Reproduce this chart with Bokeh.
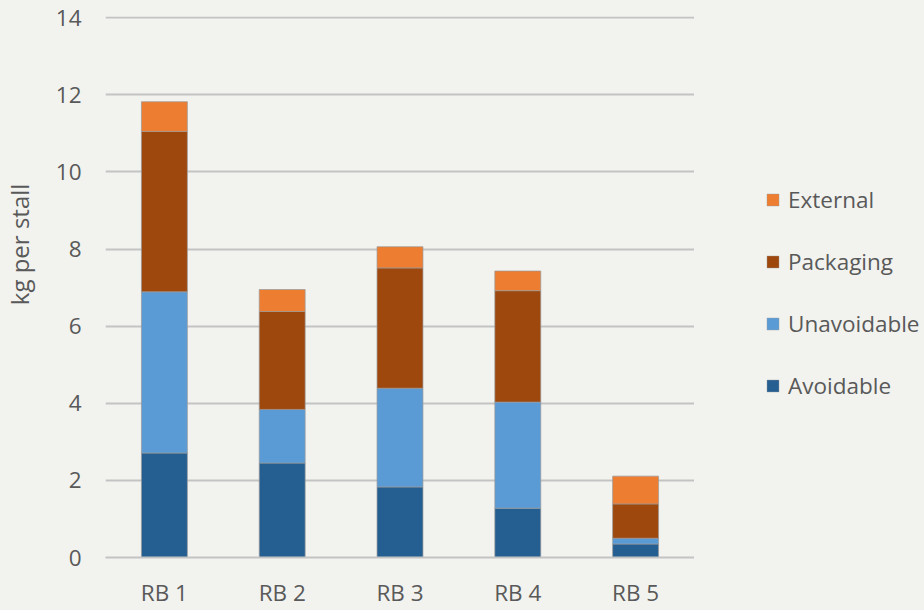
import math

from bokeh.embed import file_html
from bokeh.layouts import row
from bokeh.models import ColumnDataSource, FactorRange, Label, Legend, LegendItem, Range1d
from bokeh.plotting import figure
from bokeh.resources import INLINE

# Waste per stall (kg), split by waste stream
stalls = ["RB 1", "RB 2", "RB 3", "RB 4", "RB 5"]
avoidable = [2.71, 2.45, 1.83, 1.28, 0.35]
unavoidable = [4.18, 1.39, 2.56, 2.75, 0.15]
packaging = [4.16, 2.54, 3.12, 2.89, 0.89]
external = [0.77, 0.57, 0.55, 0.51, 0.72]

series_names = ["Avoidable", "Unavoidable", "Packaging", "External"]
series_colors = ["#255E91", "#5B9BD5", "#9E480E", "#ED7D31"]
y_ticks = [0, 2, 4, 6, 8, 10, 12, 14]
y_title = "kg per stall"

FONT = "Open Sans"
FONT_SIZE = "22.5px"
TEXT_COLOR = "#595959"
BG = "#f2f3ef"
GRID = "#c3c3c3"
OUTLINE = "#9a9a9a"
H = 610
TITLE_W = 52
LEGEND_W = 230
MAIN_W = 924 - TITLE_W - LEGEND_W


def blank_strip(width):
    f = figure(
        width=width, height=H, x_range=(0, width), y_range=(0, H),
        x_axis_location=None, y_axis_location=None,
        output_backend="svg", toolbar_location=None, min_border=0,
    )
    f.background_fill_color = BG
    f.border_fill_color = BG
    f.outline_line_color = None
    f.grid.visible = False
    return f


source = ColumnDataSource(dict(
    stall=stalls,
    Avoidable=avoidable,
    Unavoidable=unavoidable,
    Packaging=packaging,
    External=external,
))

# left strip: rotated y-axis title
t = blank_strip(TITLE_W)
t.add_layout(Label(
    x=19, y=H - 257, text=y_title, angle=math.pi / 2,
    text_align="center", text_baseline="middle",
    text_font=FONT, text_font_size="24px", text_color=TEXT_COLOR,
))

# main stacked bar chart; a hair of headroom keeps the top gridline visible
p = figure(
    width=MAIN_W, height=H,
    x_range=FactorRange(factors=stalls, range_padding=0),
    y_range=Range1d(0, 14.03),
    output_backend="svg",
    toolbar_location=None,
    min_border_left=104 - TITLE_W, min_border_right=0,
    min_border_top=16, min_border_bottom=53,
)
p.background_fill_color = BG
p.border_fill_color = BG
p.outline_line_color = None

p.vbar_stack(
    series_names, x="stall", width=0.39, source=source,
    fill_color=series_colors, line_color=OUTLINE, line_alpha=0.7, line_width=1,
)

p.yaxis.ticker = y_ticks
p.yaxis.axis_line_color = None
p.yaxis.major_tick_line_color = None
p.yaxis.minor_tick_line_color = None
p.yaxis.major_tick_out = 0
p.yaxis.major_label_standoff = 24
p.xaxis.axis_line_color = GRID
p.xaxis.axis_line_width = 2
p.xaxis.major_tick_line_color = None
p.xaxis.minor_tick_line_color = None
p.xaxis.major_tick_out = 0
p.xaxis.major_label_standoff = 19
for ax in (p.xaxis[0], p.yaxis[0]):
    ax.major_label_text_font = FONT
    ax.major_label_text_font_size = FONT_SIZE
    ax.major_label_text_color = TEXT_COLOR

p.xgrid.grid_line_color = None
p.ygrid.grid_line_color = GRID
p.ygrid.grid_line_width = 2

# right strip: legend; each swatch renderer is a zero-size bar that only
# supplies the fill style for its legend entry
lg = blank_strip(LEGEND_W)
swatch_src = ColumnDataSource(dict(x=[0], top=[0]))
swatches = [
    lg.vbar(x="x", top="top", width=0, source=swatch_src,
            fill_color=c, line_color=OUTLINE, line_alpha=0.4)
    for c in series_colors
]
items = [LegendItem(label=name, renderers=[r])
         for name, r in zip(series_names, swatches)][::-1]
legend = Legend(
    items=items, location=(71, 156),
    border_line_color=None, background_fill_alpha=0,
    padding=0, margin=0,
    glyph_width=15, glyph_height=15, label_height=30, spacing=31,
    label_standoff=8,
    label_text_font=FONT, label_text_font_size=FONT_SIZE, label_text_color=TEXT_COLOR,
)
lg.add_layout(legend)

layout = row(t, p, lg, spacing=0, styles={"background-color": BG})
open("out.html", "w").write(file_html(layout, INLINE))
